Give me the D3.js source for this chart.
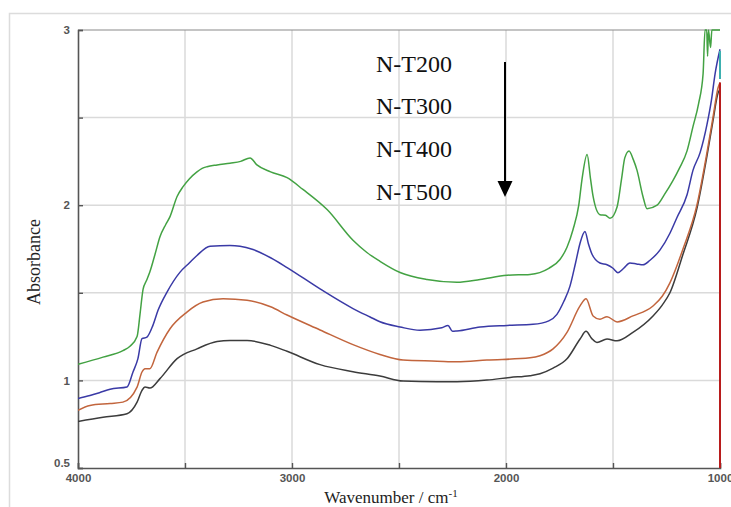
<!DOCTYPE html>
<html><head><meta charset="utf-8">
<script src="https://cdn.jsdelivr.net/npm/d3@7"></script>
<style>body{margin:0;background:#fff}svg{display:block}</style>
</head><body>
<svg id="c" width="731" height="507"></svg>
<script>
// ---- data ----
const seriesNames = ["N-T200", "N-T300", "N-T400", "N-T500"];
const seriesColors = ["#43a243", "#3a3aa6", "#c2653d", "#3c3c3c"];
const xTicks = [4000, 3500, 3000, 2500, 2000, 1500, 1000];
const xTickLabels = ["4000", "", "3000", "", "2000", "", "1000"];
const yTicks = [0.5, 1, 1.5, 2, 2.5, 3];
const yTickLabels = ["0.5", "1", "", "2", "", "3"];

const nT200 = [[4000,1.092],[3883,1.133],[3790,1.17],[3757,1.195],[3724,1.25],[3710,1.38],[3696,1.52],[3680,1.57],[3664,1.62],[3640,1.72],[3617,1.82],[3590,1.89],[3570,1.935],[3537,2.05],[3509,2.106],[3480,2.15],[3444,2.19],[3420,2.21],[3397,2.22],[3350,2.23],[3290,2.24],[3240,2.25],[3196,2.27],[3164,2.23],[3100,2.19],[3023,2.157],[2949,2.09],[2836,1.975],[2715,1.80],[2650,1.73],[2589,1.68],[2495,1.616],[2369,1.576],[2229,1.56],[2121,1.576],[1995,1.60],[1888,1.605],[1800,1.64],[1748,1.69],[1715,1.76],[1687,1.86],[1660,2.0],[1645,2.146],[1621,2.29],[1605,2.15],[1593,2.05],[1561,1.946],[1535,1.943],[1514,1.925],[1481,1.99],[1460,2.15],[1445,2.27],[1425,2.31],[1405,2.26],[1388,2.20],[1360,2.05],[1341,1.98],[1294,2.0],[1260,2.06],[1220,2.14],[1190,2.21],[1154,2.31],[1126,2.45],[1100,2.58],[1079,2.75],[1070,3.0],[1062,3.0],[1058,2.85],[1054,3.0],[1044,2.9],[1038,3.0],[1025,3.0],[1000,3.0]];
const nT300 = [[4000,0.897],[3944,0.914],[3900,0.93],[3850,0.95],[3771,0.962],[3743,1.048],[3720,1.124],[3701,1.238],[3678,1.247],[3650,1.314],[3626,1.40],[3584,1.504],[3523,1.618],[3480,1.67],[3444,1.713],[3383,1.766],[3290,1.77],[3243,1.766],[3182,1.747],[3100,1.70],[3023,1.644],[2869,1.522],[2715,1.41],[2635,1.362],[2589,1.335],[2495,1.305],[2402,1.286],[2300,1.30],[2271,1.314],[2250,1.28],[2229,1.282],[2121,1.305],[1995,1.314],[1874,1.32],[1800,1.34],[1762,1.377],[1730,1.45],[1701,1.538],[1675,1.67],[1654,1.783],[1631,1.85],[1615,1.78],[1598,1.72],[1561,1.67],[1528,1.66],[1500,1.64],[1477,1.615],[1450,1.64],[1421,1.67],[1390,1.665],[1360,1.66],[1327,1.686],[1280,1.745],[1234,1.84],[1201,1.93],[1154,2.06],[1126,2.2],[1093,2.3],[1061,2.46],[1040,2.6],[1023,2.75],[1000,2.89]];
const nT400 = [[4000,0.829],[3944,0.857],[3850,0.868],[3790,0.876],[3724,0.962],[3701,1.048],[3687,1.067],[3664,1.067],[3631,1.16],[3570,1.295],[3491,1.39],[3416,1.447],[3322,1.466],[3210,1.457],[3100,1.42],[3023,1.373],[2869,1.288],[2715,1.204],[2589,1.148],[2481,1.116],[2322,1.11],[2229,1.106],[2089,1.116],[1888,1.129],[1841,1.141],[1780,1.18],[1715,1.274],[1654,1.425],[1626,1.466],[1593,1.368],[1561,1.349],[1528,1.364],[1481,1.334],[1407,1.368],[1313,1.425],[1270,1.48],[1234,1.557],[1173,1.75],[1108,2.0],[1061,2.3],[1033,2.5],[1009,2.67],[1000,2.70]];
const nT500 = [[4000,0.766],[3883,0.79],[3771,0.81],[3724,0.876],[3701,0.943],[3687,0.962],[3664,0.956],[3617,1.01],[3537,1.124],[3444,1.18],[3350,1.222],[3290,1.228],[3210,1.228],[3100,1.2],[3023,1.166],[2869,1.09],[2715,1.05],[2589,1.025],[2481,0.996],[2322,0.993],[2229,0.993],[2089,1.002],[1981,1.017],[1888,1.027],[1841,1.038],[1780,1.07],[1715,1.123],[1654,1.236],[1626,1.28],[1600,1.24],[1575,1.217],[1528,1.236],[1481,1.226],[1407,1.274],[1313,1.368],[1270,1.43],[1234,1.5],[1173,1.72],[1108,1.98],[1061,2.28],[1033,2.48],[1009,2.64],[1000,2.66]];
const allSeries = [nT200, nT300, nT400, nT500];
const redEdge = [[1000,0.5],[1000,2.70]];
const tealEdge = [[1000,2.72],[1000,2.88]];

// ---- layout ----
const svg = d3.select("#c");
const L = 78, R = 720, T = 30, B = 468;
const x = d3.scaleLinear().domain([4000, 1000]).range([L, R]);
const y = d3.scaleLinear().domain([0.5, 3]).range([B, T]);

// outer frame
svg.append("rect").attr("x", 9.5).attr("y", 13.5).attr("width", 740).attr("height", 520)
  .attr("fill", "none").attr("stroke", "#dcdcdc").attr("stroke-width", 1.5);

// grid
const g = svg.append("g");
g.selectAll(".vg").data(xTicks.slice(1, -1)).join("line")
  .attr("x1", d => x(d)).attr("x2", d => x(d)).attr("y1", T).attr("y2", B)
  .attr("stroke", "#dadada").attr("stroke-width", 1.5);
g.selectAll(".hg").data(yTicks.slice(1, -1)).join("line")
  .attr("x1", L).attr("x2", R).attr("y1", d => y(d)).attr("y2", d => y(d))
  .attr("stroke", "#dadada").attr("stroke-width", 1.5);

// top border
svg.append("line").attr("x1", L).attr("x2", R).attr("y1", T).attr("y2", T)
  .attr("stroke", "#8a8a8a").attr("stroke-width", 1.2);

// axes
const xAxis = d3.axisBottom(x).tickValues(xTicks).tickSize(-5).tickPadding(8)
  .tickFormat((d, i) => xTickLabels[i]);
const yAxis = d3.axisLeft(y).tickValues(yTicks).tickSize(-5).tickPadding(8)
  .tickFormat((d, i) => yTickLabels[i]);
const ax = svg.append("g").attr("transform", `translate(0,${B})`).call(xAxis);
const ay = svg.append("g").attr("transform", `translate(${L},0)`).call(yAxis);
[ax, ay].forEach(a => {
  a.select(".domain").attr("stroke", "#555").attr("stroke-width", 1.6);
  a.selectAll(".tick line").attr("stroke", "#555").attr("stroke-width", 1.4);
  a.selectAll("text").attr("fill", "#555").style("font-family", "Liberation Sans, Arial, sans-serif")
    .style("font-size", "11.5px").style("font-weight", "bold");
});
ay.selectAll(".tick").filter(d => d === 0.5).select("text").attr("dy", "-0.1em");
ax.selectAll("text").attr("dy", "0.55em");

// clip
svg.append("clipPath").attr("id", "clip").append("rect")
  .attr("x", L).attr("y", T - 1).attr("width", R - L + 2).attr("height", B - T + 1);

const line = d3.line().x(d => x(d[0])).y(d => y(d[1])).curve(d3.curveMonotoneX);
const lineLin = d3.line().x(d => x(d[0])).y(d => y(d[1]));
const plot = svg.append("g").attr("clip-path", "url(#clip)");
allSeries.slice().reverse().forEach((s, i) => {
  const k = allSeries.length - 1 - i;
  plot.append("path").datum(s).attr("d", line).attr("fill", "none")
    .attr("stroke", seriesColors[k]).attr("stroke-width", 1.5);
});
plot.append("path").datum(redEdge).attr("d", lineLin).attr("stroke", "#b81c1c").attr("stroke-width", 2).attr("fill", "none");
plot.append("path").datum(tealEdge).attr("d", lineLin).attr("stroke", "#3cb0b0").attr("stroke-width", 2).attr("fill", "none");

// legend text + arrow
const lg = svg.append("g").style("font-family", "Liberation Serif, Times New Roman, serif")
  .style("font-size", "24px").attr("fill", "#111");
const legendY = [72, 114, 157, 200];
seriesNames.forEach((n, i) => lg.append("text").attr("x", 376).attr("y", legendY[i]).text(n));
svg.append("line").attr("x1", 505).attr("x2", 505).attr("y1", 62).attr("y2", 184)
  .attr("stroke", "#000").attr("stroke-width", 2);
svg.append("path").attr("d", "M497.5,181 L512.5,181 L505,197 Z").attr("fill", "#000");

// axis titles
svg.append("text").attr("transform", "translate(40,262) rotate(-90)").attr("text-anchor", "middle")
  .style("font-family", "Liberation Serif, Times New Roman, serif").style("font-size", "18px")
  .attr("fill", "#222").text("Absorbance");
const xt = svg.append("text").attr("x", 391).attr("y", 503).attr("text-anchor", "middle")
  .style("font-family", "Liberation Serif, Times New Roman, serif").style("font-size", "17px").attr("fill", "#222");
xt.append("tspan").text("Wavenumber / cm");
xt.append("tspan").attr("dy", "-6").style("font-size", "11px").text("-1");
</script>
</body></html>
